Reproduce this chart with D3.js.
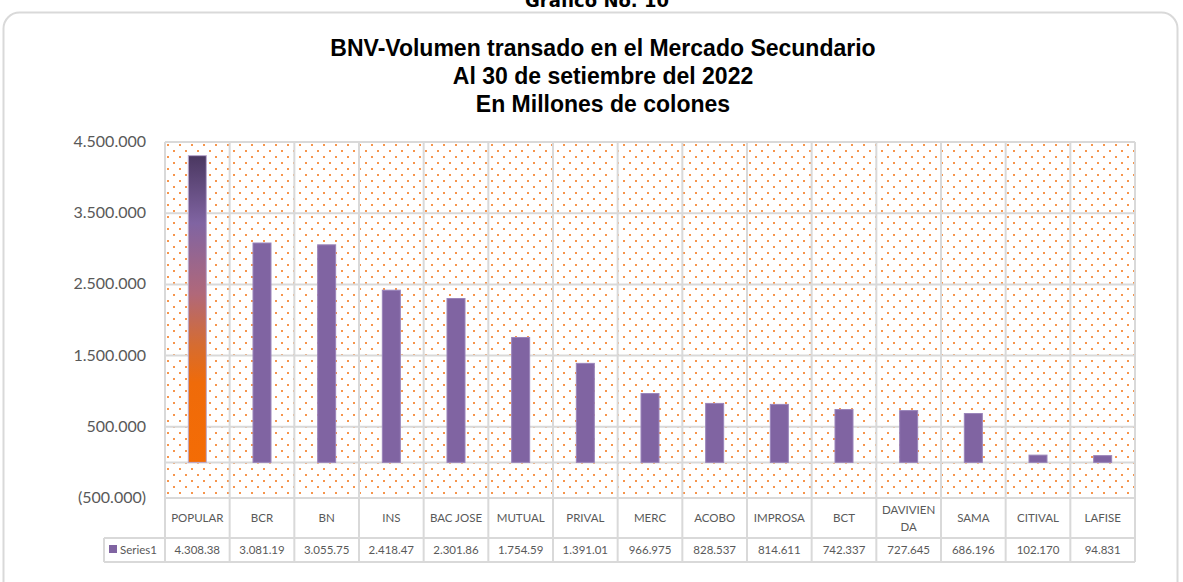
<!DOCTYPE html>
<html>
<head>
<meta charset="utf-8">
<script src="https://cdn.jsdelivr.net/npm/d3@7"></script>
<style>
  body { margin: 0; background: #fff; }
  svg { display: block; }
</style>
</head>
<body>
<svg width="1183" height="582"></svg>
<script>
var categories = ['POPULAR', 'BCR', 'BN', 'INS', 'BAC JOSE', 'MUTUAL', 'PRIVAL', 'MERC',
  'ACOBO', 'IMPROSA', 'BCT', 'DAVIVIENDA', 'SAMA', 'CITIVAL', 'LAFISE'];
var values = [4308380, 3081190, 3055750, 2418470, 2301860, 1754590, 1391010, 966975,
  828537, 814611, 742337, 727645, 686196, 102170, 94831];
var tableLabels = ['4.308.38', '3.081.19', '3.055.75', '2.418.47', '2.301.86', '1.754.59',
  '1.391.01', '966.975', '828.537', '814.611', '742.337', '727.645', '686.196', '102.170', '94.831'];
var yTicks = [-500000, 500000, 1500000, 2500000, 3500000, 4500000];
var titleLines = ['BNV-Volumen transado en el Mercado Secundario', 'Al 30 de setiembre del 2022', 'En Millones de colones'];

var svg = d3.select('svg');
var plot = { left: 165, right: 1135, top: 142, bottom: 498 };
var catRowBottom = 538, tableBottom = 562, legendLeft = 104;
var grid = '#d9d9d9', textGrey = '#595959';

var defs = svg.append('defs');
var pat = defs.append('pattern').attr('id', 'dots')
  .attr('patternUnits', 'userSpaceOnUse')
  .attr('width', 12).attr('height', 12)
  .attr('x', plot.left).attr('y', plot.top);
pat.append('rect').attr('x', 2).attr('y', 2).attr('width', 2).attr('height', 2).attr('fill', '#f47b20').attr('opacity', 0.8);
pat.append('rect').attr('x', 8).attr('y', 8).attr('width', 2).attr('height', 2).attr('fill', '#f47b20').attr('opacity', 0.8);

var grad = defs.append('linearGradient').attr('id', 'popGrad')
  .attr('x1', 0).attr('y1', 0).attr('x2', 0).attr('y2', 1);
[[0, '#4a3760'], [0.22, '#8064a2'], [0.45, '#b0687a'], [0.62, '#d66c30'], [0.74, '#ef6b0a'], [1, '#f46c05']]
  .forEach(s => grad.append('stop').attr('offset', s[0]).attr('stop-color', s[1]));

// outer frame
svg.append('rect').attr('x', 3.5).attr('y', 12.5).attr('width', 1174).attr('height', 600)
  .attr('rx', 16).attr('fill', '#fff').attr('stroke', grid).attr('stroke-width', 2);

svg.append('text').attr('x', 597).attr('y', 7).attr('text-anchor', 'middle')
  .attr('font-family', 'DejaVu Sans, Verdana, sans-serif').attr('font-weight', 'bold')
  .attr('font-size', 18).attr('fill', '#000').text('Grafico No. 10');

svg.selectAll('.title').data(titleLines).enter().append('text')
  .attr('x', 603).attr('y', (d, i) => 56 + i * 28)
  .attr('text-anchor', 'middle')
  .attr('font-family', 'Liberation Sans, Arial, sans-serif').attr('font-weight', 'bold')
  .attr('font-size', 23).attr('fill', '#000').text(d => d);

var x = d3.scaleBand().domain(categories).range([plot.left, plot.right]);
var y = d3.scaleLinear().domain([-500000, 4500000]).range([plot.bottom, plot.top]);

svg.append('rect').attr('x', plot.left).attr('y', plot.top)
  .attr('width', plot.right - plot.left).attr('height', plot.bottom - plot.top)
  .attr('fill', 'url(#dots)');

// horizontal gridlines
svg.selectAll('.hgrid').data(yTicks.concat([0])).enter().append('line')
  .attr('x1', plot.left).attr('x2', plot.right)
  .attr('y1', d => y(d)).attr('y2', d => y(d))
  .attr('stroke', grid).attr('stroke-width', 2);

// vertical lines through plot and table
var bounds = categories.map(c => x(c)).concat([plot.right]);
svg.selectAll('.vgrid').data(bounds).enter().append('line')
  .attr('x1', d => d).attr('x2', d => d)
  .attr('y1', plot.top).attr('y2', tableBottom)
  .attr('stroke', grid).attr('stroke-width', 2);

// table horizontal lines
svg.append('line').attr('x1', legendLeft).attr('x2', plot.right).attr('y1', catRowBottom).attr('y2', catRowBottom)
  .attr('stroke', grid).attr('stroke-width', 2);
svg.append('line').attr('x1', legendLeft).attr('x2', plot.right).attr('y1', tableBottom).attr('y2', tableBottom)
  .attr('stroke', grid).attr('stroke-width', 2);
svg.append('line').attr('x1', legendLeft).attr('x2', legendLeft).attr('y1', catRowBottom).attr('y2', tableBottom)
  .attr('stroke', grid).attr('stroke-width', 2);

// y axis labels
var fmt = d3.formatLocale({ decimal: ',', thousands: '.', grouping: [3], currency: ['', ''] }).format(',');
svg.selectAll('.ylab').data(yTicks).enter().append('text')
  .attr('x', 146).attr('y', d => y(d) + 5)
  .attr('text-anchor', 'end')
  .attr('font-family', 'Lato, Open Sans, sans-serif').attr('font-size', 16)
  .attr('fill', textGrey)
  .text(d => d < 0 ? '(' + fmt(-d) + ')' : fmt(d));

// bars
var barW = 18;
svg.selectAll('.bar').data(values).enter().append('rect')
  .attr('x', (d, i) => x(categories[i]) + x.bandwidth() / 2 - barW / 2)
  .attr('y', d => y(d))
  .attr('width', barW)
  .attr('height', d => y(0) - y(d))
  .attr('fill', (d, i) => i === 0 ? 'url(#popGrad)' : '#8064a2')
  .attr('stroke', (d, i) => i === 0 ? '#b9a9cf' : '#9a84ba')
  .attr('stroke-width', 1);

// category labels
var catText = svg.selectAll('.cat').data(categories).enter().append('text')
  .attr('text-anchor', 'middle')
  .attr('font-family', 'Lato, Open Sans, sans-serif').attr('font-size', 11.5)
  .attr('fill', textGrey);
catText.each(function (d) {
  var t = d3.select(this);
  var cx = x(d) + x.bandwidth() / 2;
  var lines = d === 'DAVIVIENDA' ? ['DAVIVIEN', 'DA'] : [d];
  var y0 = lines.length === 1 ? 522 : 514;
  lines.forEach((l, k) => t.append('tspan').attr('x', cx).attr('y', y0 + k * 17).text(l));
});

// value row
svg.selectAll('.val').data(tableLabels).enter().append('text')
  .attr('x', (d, i) => x(categories[i]) + x.bandwidth() / 2)
  .attr('y', 554)
  .attr('text-anchor', 'middle')
  .attr('font-family', 'Lato, Open Sans, sans-serif').attr('font-size', 11.5)
  .attr('fill', textGrey).text(d => d);

// legend cell
svg.append('rect').attr('x', 109).attr('y', 545).attr('width', 8).attr('height', 8).attr('fill', '#8064a2');
svg.append('text').attr('x', 120).attr('y', 554)
  .attr('font-family', 'Lato, Open Sans, sans-serif').attr('font-size', 11.5)
  .attr('fill', textGrey).text('Series1');
</script>
</body>
</html>
